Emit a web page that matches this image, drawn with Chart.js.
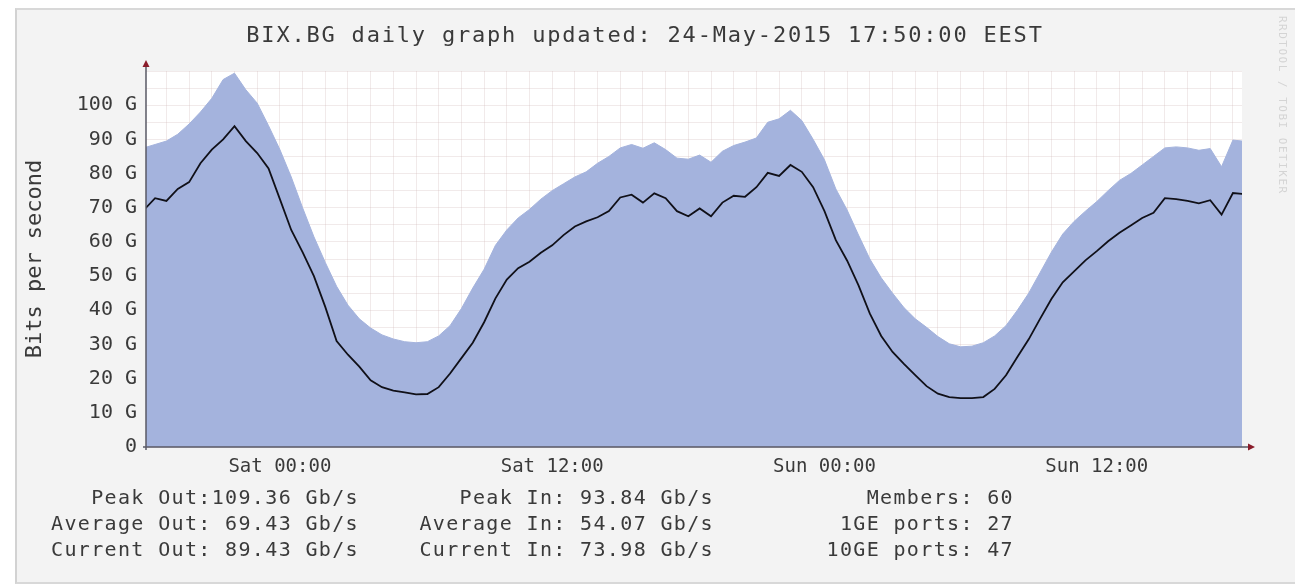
<!DOCTYPE html>
<html>
<head>
<meta charset="utf-8">
<script src="https://cdn.jsdelivr.net/npm/chart.js@4/dist/chart.umd.min.js"></script>
<style>
  body { margin: 0; background: #fff; width: 1295px; height: 587px; overflow: hidden; position: relative; }
  #panel { position: absolute; left: 15px; top: 8px; width: 1280px; height: 576px; box-sizing: border-box;
           background: #f3f3f3; border-top: 2px solid #d8d8d8; border-left: 2px solid #d2d2d2; border-bottom: 2px solid #d8d8d8; }
  #wrap { position: absolute; left: 0; top: 0; width: 1295px; height: 587px; }
  .mono { font-family: 'DejaVu Sans Mono', monospace; color: #3a3a3a; white-space: pre; position: absolute; }
  #title { left: 0; width: 1290px; top: 22px; text-align: center; font-size: 22px; line-height: 26px; letter-spacing: 1.8px; }
  .col { top: 484px; font-size: 20px; line-height: 26px; letter-spacing: 1.35px; text-align: right; left: 0; }
  #mark { left: 1276px; top: 16px; font-size: 11px; letter-spacing: 1.5px; color: #d4d4d4; writing-mode: vertical-rl; }
</style>
</head>
<body>
<div id="panel"></div>
<div id="wrap"><canvas id="trafficChart"></canvas></div>
<div id="title" class="mono">BIX.BG daily graph updated: 24-May-2015 17:50:00 EEST</div>
<div class="mono col" style="width:359px">Peak Out:109.36 Gb/s
Average Out: 69.43 Gb/s
Current Out: 89.43 Gb/s</div>
<div class="mono col" style="width:714px">Peak In: 93.84 Gb/s
Average In: 54.07 Gb/s
Current In: 73.98 Gb/s</div>
<div class="mono col" style="width:1014px">Members: 60
1GE ports: 27
10GE ports: 47</div>
<div id="mark" class="mono">RRDTOOL / TOBI OETIKER</div>
<script>
// Samples every 30 minutes, hour 0 = Sat 00:00
const startHour = -6;
const stepHours = 0.5;

// Outgoing traffic, Gb/s (blue area)
const outGbps = [
  87.5, 88.5, 89.5, 91.5, 94.5, 98, 102, 107.5, 109.36, 104.5, 100.6, 94,
  87, 79, 70, 61.5, 54, 47, 41.5, 37.5, 34.8, 32.8, 31.6, 30.8,
  30.5, 30.8, 32.5, 35.5, 40.5, 46.5, 52, 59, 63.5, 67, 69.5, 72.5,
  75, 77, 79, 80.5, 83, 85, 87.5, 88.5, 87.4, 89, 87, 84.5,
  84.2, 85.4, 83.3, 86.5, 88.2, 89.2, 90.4, 95, 96, 98.5, 95.5, 90,
  84, 75.5, 69.3, 62, 55, 49.5, 45, 40.8, 37.5, 35, 32.3, 30.2,
  29.3, 29.5, 30.5, 32.5, 35.5, 40, 45, 51, 57, 62.3, 66, 69,
  71.8, 75, 78, 80, 82.5, 85, 87.5, 87.8, 87.5, 86.8, 87.3, 82,
  89.8, 89.43
];

// Incoming traffic, Gb/s (black line)
const inGbps = [
  69.3, 72.8, 72, 75.5, 77.5, 83, 87, 90, 93.84, 89.5, 86, 81.5,
  72.5, 63.5, 57, 50, 41, 31, 27, 23.5, 19.5, 17.5, 16.5, 16,
  15.4, 15.5, 17.5, 21.5, 26, 30.5, 36.5, 43.5, 49, 52.3, 54.2, 56.8,
  59, 62, 64.5, 66, 67.2, 69, 73, 73.8, 71.5, 74.2, 72.8, 69,
  67.5, 69.8, 67.5, 71.5, 73.5, 73.2, 76, 80.2, 79.3, 82.5, 80.5, 76,
  69, 60.5, 54.5, 47.3, 39, 32.5, 27.8, 24.3, 21, 17.8, 15.6, 14.6,
  14.3, 14.3, 14.6, 17, 21, 26.3, 31.5, 37.5, 43.3, 48.2, 51.4, 54.6,
  57.3, 60.2, 62.7, 64.8, 67, 68.5, 72.8, 72.5, 72, 71.3, 72.2, 68,
  74.3, 73.98
];

const dayLabels = ['Sat 00:00', 'Sat 12:00', 'Sun 00:00', 'Sun 12:00'];
const labelHours = [0, 12, 24, 36];

const hours = outGbps.map((_, i) => startHour + i * stepHours);
const gridHours = [];
for (let h = -5; h <= 42; h++) gridHours.push(h);

const textColor = '#3a3a3a';
const gridColor = 'rgba(205, 180, 180, 0.28)';

// white plot background
const plotBackground = {
  id: 'plotBackground',
  beforeDraw(chart) {
    const { ctx, chartArea: a } = chart;
    ctx.save();
    ctx.fillStyle = '#ffffff';
    ctx.fillRect(a.left, a.top, a.right - a.left, a.bottom - a.top);
    ctx.restore();
  }
};

// axis lines with small arrow heads, rrdtool style
const axisArrows = {
  id: 'axisArrows',
  afterDraw(chart) {
    const { ctx, chartArea: a } = chart;
    const yTop = a.top - 8;
    const xEnd = a.right + 10;
    ctx.save();
    ctx.strokeStyle = '#5a5a66';
    ctx.lineWidth = 1.5;
    ctx.beginPath();
    ctx.moveTo(a.left, a.bottom + 3);
    ctx.lineTo(a.left, yTop);
    ctx.moveTo(a.left - 3, a.bottom);
    ctx.lineTo(xEnd, a.bottom);
    ctx.stroke();
    ctx.fillStyle = '#8a1c2a';
    ctx.beginPath();
    ctx.moveTo(a.left - 3.5, yTop + 4);
    ctx.lineTo(a.left + 3.5, yTop + 4);
    ctx.lineTo(a.left, yTop - 3);
    ctx.closePath();
    ctx.fill();
    ctx.beginPath();
    ctx.moveTo(xEnd - 4, a.bottom - 3.5);
    ctx.lineTo(xEnd - 4, a.bottom + 3.5);
    ctx.lineTo(xEnd + 3, a.bottom);
    ctx.closePath();
    ctx.fill();
    ctx.restore();
  }
};

new Chart(document.getElementById('trafficChart'), {
  type: 'line',
  data: {
    datasets: [
      {
        label: 'In',
        data: hours.map((h, i) => ({ x: h, y: inGbps[i] })),
        borderColor: '#101018',
        borderWidth: 1.8,
        pointRadius: 0,
        fill: false,
        order: 0
      },
      {
        label: 'Out',
        data: hours.map((h, i) => ({ x: h, y: outGbps[i] })),
        backgroundColor: '#a4b3dd',
        borderColor: '#a4b3dd',
        borderWidth: 1,
        pointRadius: 0,
        fill: 'origin',
        order: 1
      }
    ]
  },
  options: {
    responsive: true,
    maintainAspectRatio: false,
    animation: false,
    layout: { padding: { left: 0, top: 71, right: 53, bottom: 100 } },
    plugins: {
      legend: { display: false },
      tooltip: { enabled: false }
    },
    scales: {
      x: {
        type: 'linear',
        min: -5.9,
        max: 42.4,
        z: 1,
        border: { display: false },
        grid: { color: gridColor, drawTicks: false },
        afterBuildTicks(scale) {
          scale.ticks = gridHours.map(v => ({ value: v }));
        },
        afterFit(scale) { scale.height = 40; },
        ticks: {
          autoSkip: false,
          maxRotation: 0,
          minRotation: 0,
          padding: 9,
          color: textColor,
          font: { family: 'DejaVu Sans Mono', size: 19 },
          callback(value) {
            const i = labelHours.indexOf(value);
            return i >= 0 ? dayLabels[i] : '';
          }
        }
      },
      y: {
        min: 0,
        max: 110,
        z: 1,
        border: { display: false },
        grid: { color: gridColor, drawTicks: false },
        afterFit(scale) { scale.width = 146; },
        title: {
          display: true,
          text: 'Bits per second',
          color: textColor,
          font: { family: 'DejaVu Sans Mono', size: 22 },
          padding: { top: 22, bottom: 0 }
        },
        ticks: {
          stepSize: 5,
          autoSkip: false,
          padding: 9,
          color: textColor,
          font: { family: 'DejaVu Sans Mono', size: 20 },
          callback(value) {
            if (value % 10 !== 0 || value > 100) return '';
            return value === 0 ? '0' : value + ' G';
          }
        }
      }
    }
  },
  plugins: [plotBackground, axisArrows]
});
</script>
</body>
</html>
